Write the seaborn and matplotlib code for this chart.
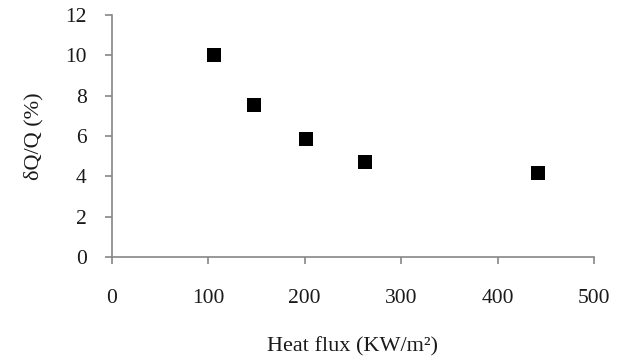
import matplotlib
matplotlib.use("Agg")
import matplotlib.pyplot as plt
import seaborn as sns
import pandas as pd

heat_flux = [106, 147, 201, 262, 442]
dq_q = [10.0, 7.55, 5.85, 4.72, 4.18]
x_ticks = [0, 100, 200, 300, 400, 500]
y_ticks = [0, 2, 4, 6, 8, 10, 12]

sns.set_theme(style="white")
plt.rcParams['font.family'] = ['Liberation Serif', 'DejaVu Serif']

df = pd.DataFrame({"x": heat_flux, "y": dq_q})

fig = plt.figure(figsize=(6.25, 3.56), dpi=100)
ax = fig.add_axes([0.179, 0.278, 0.7714, 0.680])
sns.scatterplot(data=df, x="x", y="y", marker="s", s=100, color="black",
                edgecolor="black", linewidth=0, ax=ax, legend=False)
ax.set_xlim(0, 500)
ax.set_ylim(0, 12)
ax.set_xticks(x_ticks)
ax.set_yticks(y_ticks)
gray = "#868686"
for s in ["top", "right"]:
    ax.spines[s].set_visible(False)
for s in ["left", "bottom"]:
    ax.spines[s].set_color(gray)
    ax.spines[s].set_linewidth(1.2)
txt = "#1a1a1a"
ax.tick_params(axis="both", direction="out", length=5, width=1.2, color=gray,
               labelsize=15.5, labelcolor=txt, left=True, bottom=True)
ax.tick_params(axis="x", pad=18)
ax.tick_params(axis="y", pad=13)
ax.set_xlabel("Heat flux (KW/m²)", fontsize=16, labelpad=21, color=txt)
ax.set_ylabel("δQ/Q (%)", fontsize=16, labelpad=16, color=txt)
fig.savefig("out.png", dpi=100)
